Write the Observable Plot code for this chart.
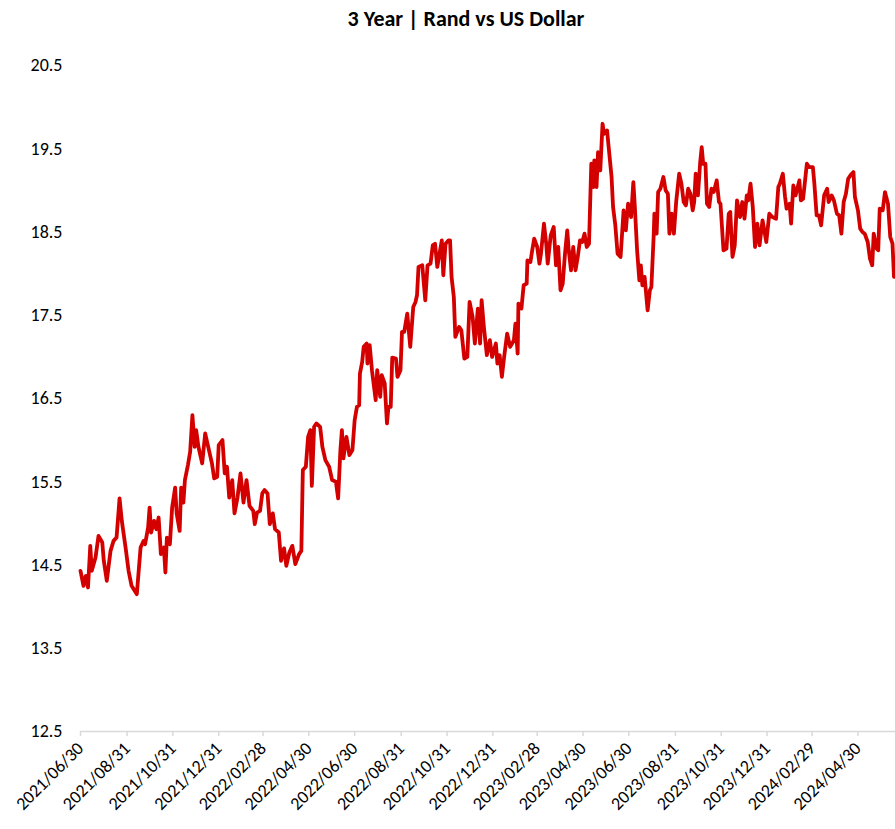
<!DOCTYPE html>
<html><head><meta charset="utf-8">
<script src="https://cdn.jsdelivr.net/npm/d3@7"></script>
<script src="https://cdn.jsdelivr.net/npm/@observablehq/plot@0.6"></script>
<style>
body{margin:0;background:#fff;}
#wrap{position:relative;width:895px;height:829px;}
#title{position:absolute;top:5px;left:37px;width:858px;text-align:center;font:bold 22px Carlito,Calibri,"Liberation Sans",Arial,sans-serif;color:#000;z-index:2;}
</style></head><body><div id="wrap"><div id="title">3 Year | Rand vs US Dollar</div></div>
<script>
const dates = [
"2021-06-30","2021-07-04","2021-07-07","2021-07-10","2021-07-13","2021-07-15","2021-07-20","2021-07-24","2021-07-29","2021-07-31",
"2021-08-04","2021-08-09","2021-08-13","2021-08-17","2021-08-21","2021-08-24","2021-08-29","2021-09-02","2021-09-06","2021-09-13",
"2021-09-18","2021-09-22","2021-09-24","2021-09-28","2021-09-30","2021-10-02","2021-10-06","2021-10-09","2021-10-12","2021-10-15",
"2021-10-19","2021-10-21","2021-10-23","2021-10-27","2021-10-30","2021-11-03","2021-11-05","2021-11-09","2021-11-11","2021-11-14",
"2021-11-16","2021-11-20","2021-11-23","2021-11-26","2021-11-29","2021-12-01","2021-12-04","2021-12-09","2021-12-13","2021-12-18",
"2021-12-22","2021-12-25","2021-12-29","2021-12-31",
"2022-01-05","2022-01-08","2022-01-11","2022-01-14","2022-01-18","2022-01-21","2022-01-25","2022-01-29","2022-02-02","2022-02-06",
"2022-02-10","2022-02-15","2022-02-17","2022-02-20","2022-02-24","2022-02-27","2022-03-02","2022-03-06","2022-03-09","2022-03-13",
"2022-03-16","2022-03-21","2022-03-24","2022-03-28","2022-03-31","2022-04-04","2022-04-08","2022-04-12","2022-04-17","2022-04-20",
"2022-04-22","2022-04-26","2022-04-29","2022-05-02","2022-05-04","2022-05-07","2022-05-10","2022-05-15","2022-05-18","2022-05-22",
"2022-05-27","2022-05-31","2022-06-05","2022-06-08","2022-06-11","2022-06-13","2022-06-15","2022-06-19","2022-06-23","2022-06-27",
"2022-06-30","2022-07-03","2022-07-06","2022-07-07","2022-07-10","2022-07-12","2022-07-16","2022-07-17","2022-07-20","2022-07-23",
"2022-07-28","2022-07-30","2022-08-03","2022-08-05","2022-08-09","2022-08-12","2022-08-14","2022-08-17","2022-08-19","2022-08-24",
"2022-08-26","2022-08-30","2022-09-01","2022-09-04","2022-09-08","2022-09-12","2022-09-16","2022-09-19","2022-09-21","2022-09-23",
"2022-09-28","2022-10-02","2022-10-05","2022-10-09","2022-10-12","2022-10-15","2022-10-18","2022-10-21","2022-10-24","2022-10-26",
"2022-10-29","2022-11-02","2022-11-04","2022-11-06","2022-11-09","2022-11-11","2022-11-16","2022-11-19","2022-11-23","2022-11-27",
"2022-11-30","2022-12-04","2022-12-07","2022-12-11","2022-12-14","2022-12-16","2022-12-19","2022-12-23","2022-12-27","2022-12-30",
"2023-01-04","2023-01-06","2023-01-09","2023-01-12","2023-01-15","2023-01-19","2023-01-23","2023-01-28","2023-01-30","2023-02-02",
"2023-02-03","2023-02-07","2023-02-10","2023-02-14","2023-02-15","2023-02-19","2023-02-21","2023-02-24","2023-02-28","2023-03-03",
"2023-03-05","2023-03-09","2023-03-12","2023-03-14","2023-03-18","2023-03-22","2023-03-25","2023-03-28","2023-03-31","2023-04-03",
"2023-04-06","2023-04-09","2023-04-11","2023-04-14","2023-04-17","2023-04-20","2023-04-23","2023-04-26","2023-04-29","2023-05-02",
"2023-05-05","2023-05-08","2023-05-11","2023-05-14","2023-05-15","2023-05-18","2023-05-20","2023-05-23","2023-05-26","2023-05-28",
"2023-06-01","2023-06-04","2023-06-07","2023-06-09","2023-06-12","2023-06-15","2023-06-19","2023-06-23","2023-06-26","2023-06-29",
"2023-07-03","2023-07-06","2023-07-08","2023-07-11","2023-07-14","2023-07-16","2023-07-18","2023-07-21","2023-07-25","2023-07-28",
"2023-07-30","2023-08-02","2023-08-03","2023-08-06","2023-08-08","2023-08-11","2023-08-15","2023-08-18","2023-08-21","2023-08-23",
"2023-08-26","2023-08-29","2023-09-01","2023-09-05","2023-09-08","2023-09-11","2023-09-14","2023-09-17","2023-09-20","2023-09-23",
"2023-09-25","2023-09-27","2023-09-30","2023-10-03","2023-10-05","2023-10-07","2023-10-10","2023-10-12","2023-10-15","2023-10-18",
"2023-10-21","2023-10-25","2023-10-28","2023-10-30","2023-11-03","2023-11-07","2023-11-10","2023-11-12","2023-11-15","2023-11-18",
"2023-11-21","2023-11-25","2023-11-28","2023-12-01","2023-12-04","2023-12-06","2023-12-09","2023-12-12","2023-12-15","2023-12-18",
"2023-12-21","2023-12-25","2023-12-30",
"2024-01-03","2024-01-07","2024-01-12","2024-01-15","2024-01-17","2024-01-21","2024-01-24","2024-01-26","2024-01-30","2024-02-01",
"2024-02-04","2024-02-07","2024-02-12","2024-02-14","2024-02-17","2024-02-22","2024-02-25","2024-03-01","2024-03-03","2024-03-06",
"2024-03-09","2024-03-12","2024-03-16","2024-03-20","2024-03-22","2024-03-26","2024-03-29","2024-04-02","2024-04-05","2024-04-08",
"2024-04-11","2024-04-14","2024-04-17","2024-04-20","2024-04-24","2024-04-26","2024-04-30","2024-05-03","2024-05-06","2024-05-09",
"2024-05-13","2024-05-16","2024-05-19","2024-05-21","2024-05-25","2024-05-27","2024-05-29","2024-06-02","2024-06-05","2024-06-09",
"2024-06-12","2024-06-15","2024-06-17"
];
const values = [
14.43,14.25,14.37,14.23,14.73,14.43,14.59,14.85,14.77,14.55,
14.31,14.67,14.79,14.83,15.30,15.03,14.71,14.43,14.25,14.15,
14.71,14.79,14.75,14.95,15.19,14.89,15.03,14.93,15.07,14.63,
14.71,14.41,14.83,14.75,15.19,15.43,15.12,14.91,15.43,15.25,
15.52,15.70,15.86,16.30,15.92,16.12,15.92,15.72,16.08,15.88,
15.72,15.54,15.56,15.94,
16.00,15.60,15.68,15.31,15.52,15.12,15.31,15.60,15.25,15.52,
15.21,15.15,14.99,15.13,15.15,15.36,15.40,15.36,14.99,15.12,
14.93,14.89,14.55,14.70,14.49,14.65,14.73,14.51,14.63,14.67,
15.64,15.68,16.04,16.12,15.45,16.16,16.20,16.16,15.92,15.76,
15.68,15.52,15.50,15.30,15.88,16.12,15.78,16.04,15.82,15.88,
16.24,16.40,16.42,16.80,16.94,17.12,17.16,16.92,17.14,16.84,
16.48,16.84,16.52,16.78,16.68,16.20,16.40,16.40,16.99,16.98,
16.76,16.84,17.30,17.30,17.52,17.12,17.60,17.66,17.74,18.08,
18.10,17.68,18.10,18.12,18.34,18.36,18.08,18.24,18.40,17.98,
18.36,18.40,18.40,17.96,17.72,17.24,17.36,17.32,16.98,17.00,
17.66,17.48,17.16,17.58,17.16,17.68,17.36,17.02,17.20,17.00,
17.16,16.92,17.02,16.76,17.00,17.28,17.12,17.20,17.40,17.04,
17.64,17.58,17.86,17.88,18.16,18.14,18.26,18.42,18.32,18.12,
18.24,18.60,18.36,18.12,18.46,18.56,18.10,18.32,17.80,17.88,
18.24,18.52,18.28,18.04,18.32,18.04,18.20,18.40,18.38,18.48,
18.32,18.36,19.32,19.04,19.36,19.04,19.46,19.24,19.80,19.68,
19.72,19.44,19.16,18.80,18.58,18.24,18.20,18.76,18.52,18.84,
18.68,19.10,18.80,18.28,17.92,18.10,17.86,17.96,17.56,17.80,
17.84,18.44,18.72,18.48,18.98,19.02,19.16,19.00,18.96,18.48,
18.72,18.48,18.86,19.20,19.08,18.86,18.82,19.02,18.96,18.76,
18.86,19.20,18.94,19.34,19.52,19.32,19.32,18.84,18.80,19.02,
18.98,19.12,18.86,18.84,18.28,18.30,18.72,18.74,18.20,18.34,
18.88,18.68,18.86,18.66,18.94,18.88,19.08,18.80,18.32,18.60,
18.34,18.64,18.38,
18.72,18.68,18.66,19.04,19.08,19.20,18.92,18.78,18.84,18.60,
19.06,18.94,19.12,18.88,18.90,19.32,19.28,19.28,19.08,18.70,
18.70,18.58,18.94,19.02,18.86,18.94,18.88,18.72,18.70,18.48,
18.86,18.96,19.14,19.18,19.22,18.92,18.76,18.54,18.50,18.48,
18.38,18.18,18.10,18.48,18.30,18.28,18.78,18.76,18.98,18.84,
18.44,18.36,17.96
];
const xTickDates = ["2021-06-30","2021-08-31","2021-10-31","2021-12-31","2022-02-28","2022-04-30","2022-06-30","2022-08-31","2022-10-31","2022-12-31","2023-02-28","2023-04-30","2023-06-30","2023-08-31","2023-10-31","2023-12-31","2024-02-29","2024-04-30"];
const yTicks = [12.5,13.5,14.5,15.5,16.5,17.5,18.5,19.5,20.5];

const data = dates.map((d, i) => ({date: new Date(d), value: values[i]}));
const fontFam = 'Carlito, Calibri, "Liberation Sans", Arial, sans-serif';

const chart = Plot.plot({
  width: 895,
  height: 829,
  marginLeft: 80,
  marginRight: 0,
  marginTop: 65,
  marginBottom: 98,
  style: {fontFamily: fontFam, fontSize: "18px", color: "#000", background: "#fff"},
  x: {type: "utc", domain: [new Date("2021-06-30"), new Date("2024-06-19")]},
  y: {domain: [12.5, 20.5]},
  marks: [
    Plot.axisY({ticks: yTicks, tickSize: 0, tickPadding: 18, tickFormat: d => d.toFixed(1), label: null, fill: "#000"}),
    Plot.ruleY([12.5], {stroke: "#d9d9d9", strokeWidth: 1.5}),
    Plot.axisX({ticks: xTickDates.map(d => new Date(d)), tickFormat: d3.utcFormat("%Y/%m/%d"), tickRotate: -45, tickSize: 5, tickPadding: 9, stroke: "#d9d9d9", strokeWidth: 1.5, fill: "#000", label: null}),
    Plot.line(data, {x: "date", y: "value", stroke: "#d40000", strokeWidth: 3.8, strokeLinejoin: "round", strokeLinecap: "round"})
  ]
});
document.getElementById("wrap").appendChild(chart);
chart.style.position = "absolute";
chart.style.left = "0";
chart.style.top = "0";
</script>
</body></html>
